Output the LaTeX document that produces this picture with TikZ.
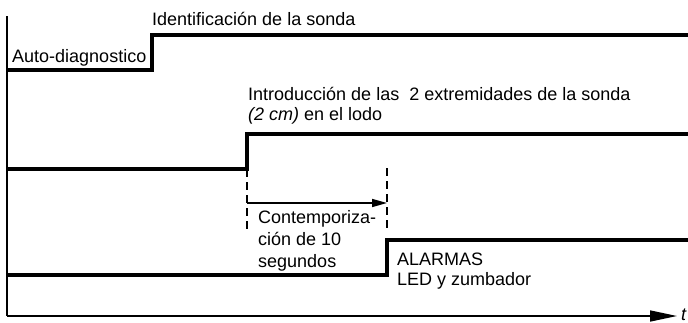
\documentclass[tikz,border=0pt]{standalone}
\usepackage{fontspec}
\setmainfont{Liberation Sans}
\usetikzlibrary{arrows.meta}
\tikzset{
  signal/.style={line width=3.2pt, line join=miter},
  axisline/.style={line width=1.6pt},
  waitline/.style={line width=2.8pt, dash pattern=on 8pt off 5pt},
  lbl/.style={anchor=base west, inner sep=0pt, align=left,
    font=\fontsize{18}{20}\selectfont},
  timearr/.style={-{Triangle[length=15pt,width=8pt]}, line width=1.5pt}
}

\begin{document}
\begin{tikzpicture}[x=1pt,y=-1pt]
    \useasboundingbox (0,0) rectangle (688,322);
    % axes
    \coordinate (origin) at (7,316);
    \coordinate (ytop) at (7,16);
    \coordinate (tend) at (677,316);
    \draw[axisline] (ytop) -- (origin);
    \draw[axisline, -{Triangle[length=27pt,width=11pt]}] (origin) -- (tend);
    \node[lbl, font=\fontsize{18}{20}\selectfont\itshape] (tlab) at (681,320) {t};
    % signals
    \draw[signal] (7,70) -- (152,70) -- (152,35) -- (688,35);
    \draw[signal] (7,169) -- (247,169) -- (247,134) -- (688,134);
    \draw[signal] (7,275) -- (387,275) -- (387,240) -- (688,240);
    % delay
    \coordinate (w1top) at (247,169);
    \coordinate (w1bot) at (247,232);
    \coordinate (w2top) at (387,168);
    \coordinate (w2bot) at (387,230);
    \draw[waitline] (w1top) -- (w1bot);
    \draw[waitline] (w2top) -- (w2bot);
    \coordinate (wstart) at (247,203);
    \coordinate (wstop) at (387,203);
    \draw[timearr] (wstart) -- (wstop);
    % labels (base = last line)
    \node[lbl] (auto) at (12,62) {Auto-diagnostico};
    \node[lbl] (ident) at (152,25) {Identificación de la sonda};
    \node[lbl] (intro) at (248,120) {Introducción de las\ \ 2 extremidades de la sonda\\\textit{(2 cm)} en el lodo};
    \node[lbl, font=\fontsize{18}{22}\selectfont] (wait) at (258,267) {Contemporiza-\\ción de 10\\segundos};
    \node[lbl] (alarm) at (397,285) {ALARMAS\\LED y zumbador};
\end{tikzpicture}
\end{document}
